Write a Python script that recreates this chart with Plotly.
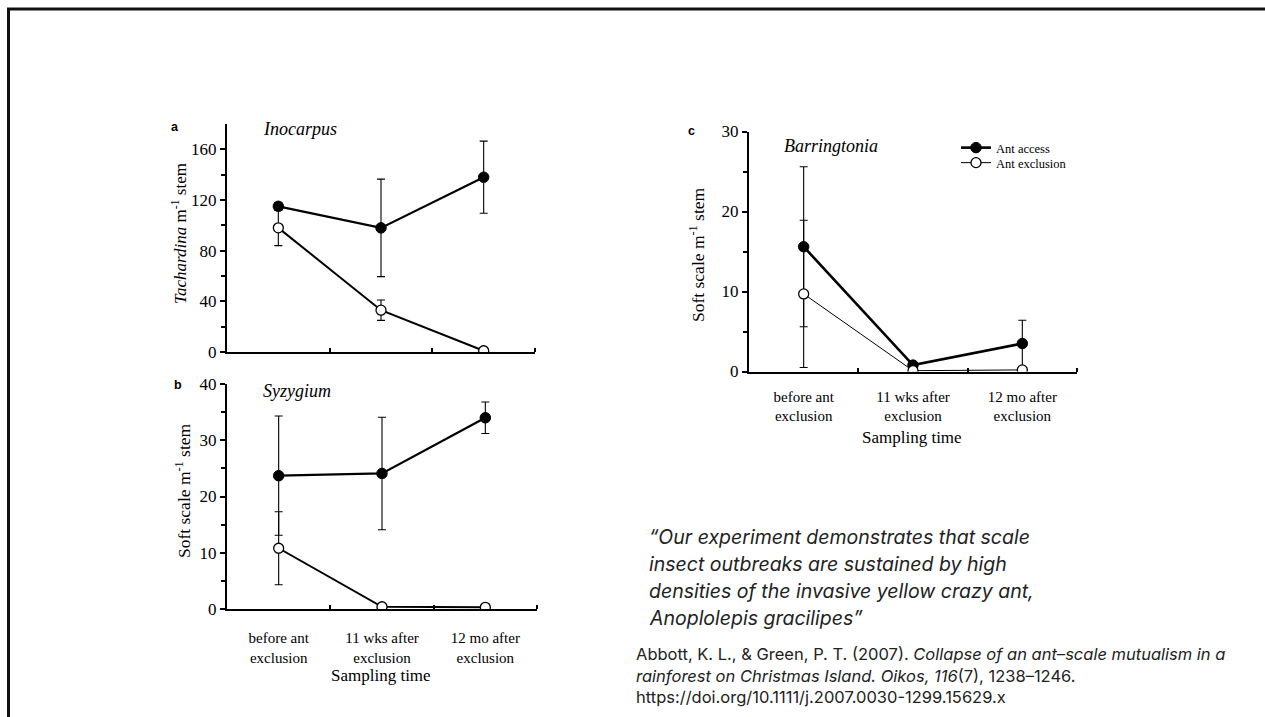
import plotly.graph_objects as go

W, H = 1265, 717

# ---------------- data ----------------
categories = ["before ant<br>exclusion", "11 wks after<br>exclusion", "12 mo after<br>exclusion"]
xpos = [0, 1, 2]

a_access = [115, 98, 138]
a_access_err = [3, 38.5, 28.5]
a_excl = [98, 33, 1]
a_excl_err = [14, 8, 0]

b_access = [23.7, 24.1, 34.0]
b_access_err = [10.6, 10.0, 2.8]
b_excl = [10.8, 0.4, 0.3]
b_excl_err = [6.5, 0, 0]

c_access = [15.6, 0.8, 3.5]
c_access_err = [10.0, 0, 2.9]
c_excl = [9.7, 0.1, 0.2]
c_excl_err = [9.2, 0, 0]

a_yticks = [0, 40, 80, 120, 160]
a_yminor = [20, 60, 100, 140]
b_yticks = [0, 10, 20, 30, 40]
b_yminor = [5, 15, 25, 35]
c_yticks = [0, 10, 20, 30]
c_yminor = [5, 15, 25]

SERIF = "Liberation Serif"
SANS = "Liberation Sans"


def px_x(x):
    return x / W


def px_y(y):
    return 1 - y / H


fig = go.Figure()


def add_pair(xa, ya, acc, acc_err, exc, exc_err, lw_acc, lw_exc, legend):
    fig.add_trace(go.Scatter(
        x=xpos, y=acc, xaxis=xa, yaxis=ya, mode="lines+markers", name="Ant access",
        line=dict(color="black", width=lw_acc),
        marker=dict(symbol="circle", size=10.5, color="black", line=dict(color="black", width=1)),
        error_y=dict(type="data", array=acc_err, visible=True, color="black", thickness=1.1, width=4),
        showlegend=legend, legend="legend",
    ))
    fig.add_trace(go.Scatter(
        x=xpos, y=exc, xaxis=xa, yaxis=ya, mode="lines+markers", name="Ant exclusion",
        line=dict(color="black", width=lw_exc),
        marker=dict(symbol="circle", size=10, color="white", line=dict(color="black", width=1.3)),
        error_y=dict(type="data", array=exc_err, visible=True, color="black", thickness=1.1, width=4),
        showlegend=legend, legend="legend2",
    ))


add_pair("x", "y", a_access, a_access_err, a_excl, a_excl_err, 2.2, 2.0, False)
add_pair("x2", "y2", b_access, b_access_err, b_excl, b_excl_err, 2.2, 2.0, False)
add_pair("x3", "y3", c_access, c_access_err, c_excl, c_excl_err, 2.6, 1.0, True)

tickfont = dict(family=SERIF, size=17, color="black")


def xaxis(dom, anchor, labels, standoff):
    return dict(
        domain=dom, anchor=anchor, range=[-0.5, 2.5],
        showline=True, linecolor="black", linewidth=2,
        showgrid=False, zeroline=False, automargin=False,
        tickvals=xpos, ticktext=categories, showticklabels=labels,
        ticks="", tickfont=dict(family=SERIF, size=15, color="black"),
        ticklabelstandoff=standoff,
        minor=dict(tickvals=[0.5, 1.5, 2.5], ticks="inside", ticklen=4, tickwidth=1.5, tickcolor="black"),
        fixedrange=True,
    )


def yaxis(dom, anchor, rng, ticks, minor):
    return dict(
        domain=dom, anchor=anchor, range=rng,
        showline=True, linecolor="black", linewidth=2,
        showgrid=False, zeroline=False, automargin=False,
        tickvals=ticks, ticks="outside", ticklen=5, tickwidth=1.5, tickcolor="black",
        tickfont=tickfont,
        minor=dict(tickvals=minor, ticks="outside", ticklen=4, tickwidth=1.5, tickcolor="black"),
        fixedrange=True,
    )


legfont = dict(family=SERIF, size=12.5, color="black")
fig.update_layout(
    width=W, height=H,
    margin=dict(l=0, r=0, t=0, b=0, pad=0, autoexpand=False),
    paper_bgcolor="white", plot_bgcolor="rgba(0,0,0,0)",
    xaxis=xaxis([px_x(227), px_x(535)], "y", False, 0),
    yaxis=yaxis([px_y(352), px_y(124)], "x", [0, 180], a_yticks, a_yminor),
    xaxis2=xaxis([px_x(227), px_x(537)], "y2", True, 14),
    yaxis2=yaxis([px_y(609), px_y(384)], "x2", [0, 40], b_yticks, b_yminor),
    xaxis3=xaxis([px_x(749), px_x(1077)], "y3", True, 10),
    yaxis3=yaxis([px_y(371.5), px_y(131.5)], "x3", [0, 30], c_yticks, c_yminor),
    legend=dict(x=px_x(956), y=px_y(148), xanchor="left", yanchor="middle",
                font=legfont, bgcolor="rgba(0,0,0,0)", borderwidth=0, itemwidth=30),
    legend2=dict(x=px_x(956), y=px_y(163), xanchor="left", yanchor="middle",
                 font=legfont, bgcolor="rgba(0,0,0,0)", borderwidth=0, itemwidth=30),
    showlegend=True,
)

ann = []


def text(x, y, s, size, family=SERIF, xanchor="left", angle=0, color="black"):
    ann.append(dict(x=px_x(x), y=px_y(y), xref="paper", yref="paper", text=s,
                    showarrow=False, xanchor=xanchor, yanchor="middle", textangle=angle,
                    font=dict(family=family, size=size, color=color)))


# panel letters
text(169, 127, "<b>a</b>", 12.5, SANS)
text(172, 385, "<b>b</b>", 12.5, SANS)
text(686, 131, "<b>c</b>", 12.5, SANS)
# panel titles
text(261, 129, "<i>Inocarpus</i>", 18)
text(261, 391, "<i>Syzygium</i>", 18)
text(782, 146, "<i>Barringtonia</i>", 18)
# y-axis titles
text(179, 233, "<i>Tachardina</i> m<sup>-1</sup> stem", 17, xanchor="center", angle=-90)
text(183, 491, "Soft scale m<sup>-1</sup> stem", 17.5, xanchor="center", angle=-90)
text(697, 255, "Soft scale m<sup>-1</sup> stem", 17.5, xanchor="center", angle=-90)
# x-axis titles
text(381, 675, "Sampling time", 17, xanchor="center")
text(912, 437, "Sampling time", 17, xanchor="center")

# quote
quote = [
    "“Our experiment demonstrates that scale",
    "insect outbreaks are sustained by high",
    "densities of the invasive yellow crazy ant,",
    "Anoplolepis gracilipes”",
]
for i, line in enumerate(quote):
    text(647, 537 + 27 * i, "<i>" + line + "</i>", 19.5, "Inter", color="#222")

citation = [
    "Abbott, K. L., &amp; Green, P. T. (2007). <i>Collapse of an ant–scale mutualism in a</i>",
    "<i>rainforest on Christmas Island. Oikos, 116</i>(7), 1238–1246.",
    "https://doi.org/10.1111/j.2007.0030-1299.15629.x",
]
for i, line in enumerate(citation):
    text(634, 654 + 21.5 * i, line, 16.5, "Inter", color="#222")

fig.update_layout(annotations=ann)

# slide frame
fig.add_shape(type="line", xref="paper", yref="paper", x0=px_x(7), x1=1, y0=px_y(9), y1=px_y(9),
              line=dict(color="#111", width=3))
fig.add_shape(type="line", xref="paper", yref="paper", x0=px_x(8.5), x1=px_x(8.5), y0=px_y(8), y1=0,
              line=dict(color="#111", width=3))

fig.write_html("out.html", config={"displayModeBar": False},
               post_script="document.body.style.margin='0';document.body.style.overflow='hidden';")
